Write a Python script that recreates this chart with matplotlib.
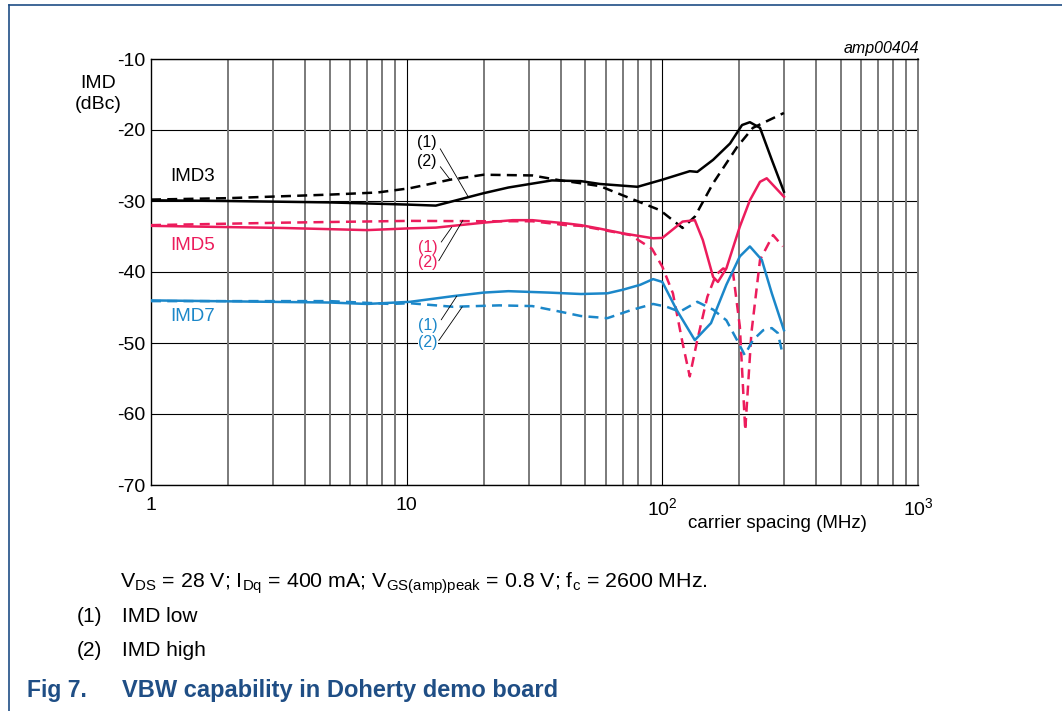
import numpy as np
import matplotlib
matplotlib.use("Agg")
import matplotlib.pyplot as plt
from matplotlib.lines import Line2D

plt.rcParams['font.family'] = ['Liberation Sans', 'DejaVu Sans']
plt.rcParams['mathtext.fontset'] = 'custom'
plt.rcParams['mathtext.rm'] = 'Liberation Sans'
plt.rcParams['mathtext.it'] = 'Liberation Sans:italic'

# ---- data (carrier spacing MHz, IMD dBc) ----
imd3_low_f = [1, 2, 5, 10, 13, 20, 25, 37, 48, 57, 80, 100, 128, 137, 158, 184, 205, 220, 241, 268, 299]
imd3_low = [-29.9, -30.0, -30.2, -30.5, -30.65, -28.9, -28.1, -27.1, -27.2, -27.6, -28.0, -27.0,
            -25.8, -25.9, -24.2, -21.9, -19.3, -18.9, -19.7, -24.2, -28.7]

imd3_high_f = [1, 2, 5, 7.7, 10.3, 14.8, 20, 31, 40, 48, 57, 70, 98, 120, 134, 158, 196, 226, 299]
imd3_high = [-29.8, -29.6, -29.1, -28.8, -28.2, -27.0, -26.3, -26.4, -27.1, -27.5, -27.9, -29.2,
             -31.3, -33.8, -32.2, -27.5, -22.4, -19.7, -17.6]

imd5_low_f = [1, 3.3, 7, 10.3, 13, 20, 26, 31, 42, 48, 57, 70, 92, 100, 120, 134, 144, 158, 165,
              178, 201, 220, 241, 256, 299]
imd5_low = [-33.5, -33.8, -34.1, -33.85, -33.75, -33.05, -32.7, -32.7, -33.15, -33.4, -33.9, -34.55,
            -35.25, -35.2, -32.9, -32.7, -35.5, -40.7, -41.4, -39.5, -33.6, -29.9, -27.3, -26.8, -29.4]

imd5_high_f = [1, 3.3, 10.3, 20, 31, 42, 48, 75, 91, 100, 110, 120, 128, 137, 150, 162, 173, 189,
               201, 211, 223, 241, 271, 296]
imd5_high = [-33.4, -33.05, -32.8, -32.85, -32.85, -33.4, -33.5, -34.8, -36.7, -39.25, -43.0, -50.0,
             -54.7, -49.6, -43.5, -40.4, -39.5, -40.1, -47.7, -62.3, -48.6, -38.3, -34.8, -36.4]

imd7_low_f = [1, 5, 7, 10.3, 15.2, 20, 25, 36, 48, 61, 70, 82, 92, 100, 114, 134, 155, 178, 201,
              220, 245, 268, 299]
imd7_low = [-44.0, -44.3, -44.5, -44.2, -43.4, -42.9, -42.7, -42.9, -43.1, -43.0, -42.5, -41.8,
            -41.0, -41.4, -45.4, -49.6, -47.2, -41.8, -37.8, -36.4, -38.3, -43.0, -48.2]

imd7_high_f = [1, 5, 8.6, 10.3, 15.2, 23, 31, 40, 48, 61, 75, 92, 104, 117, 137, 158, 178, 196,
               210, 226, 248, 268, 283, 296]
imd7_high = [-44.1, -44.1, -44.5, -44.4, -44.9, -44.7, -44.8, -45.6, -46.2, -46.5, -45.4, -44.5,
             -44.9, -45.6, -44.2, -45.3, -46.8, -49.6, -51.7, -49.6, -48.2, -47.9, -48.6, -51.7]

y_ticks = [-10, -20, -30, -40, -50, -60, -70]
x_ticks = [1, 10, 100, 1000]
x_ticklabels = ['1', '10', r'$10^2$', r'$10^3$']

BLACK = '#000000'
PINK = '#ec1c5c'
BLUE = '#1b87c9'
NAVY = '#1f4e85'

fig = plt.figure(figsize=(10.62, 7.11), dpi=100)
ax = fig.add_axes([151 / 1062, 1 - 485 / 711, 767 / 1062, 426 / 711])

ax.set_xscale('log')
ax.set_xlim(1, 1000)
ax.set_ylim(-70, -10)

# grid
for y in y_ticks:
    ax.axhline(y, color='black', lw=0.8, zorder=1)
for dec in [1, 10, 100]:
    for m in range(2, 10):
        ax.axvline(dec * m, color='#7a7a7a', lw=1.4, zorder=1)
ax.axvline(10, color='black', lw=0.8, zorder=1)
ax.axvline(100, color='black', lw=0.8, zorder=1)

lw = 1.8
dash = (0, (4, 2.5))
ax.plot(imd3_low_f, imd3_low, color=BLACK, lw=lw, zorder=3)
ax.plot(imd3_high_f, imd3_high, color=BLACK, lw=lw, ls=dash, zorder=3)
ax.plot(imd5_low_f, imd5_low, color=PINK, lw=lw, zorder=3)
ax.plot(imd5_high_f, imd5_high, color=PINK, lw=lw, ls=dash, zorder=3)
ax.plot(imd7_low_f, imd7_low, color=BLUE, lw=lw, zorder=3)
ax.plot(imd7_high_f, imd7_high, color=BLUE, lw=lw, ls=dash, zorder=3)

# series labels
ax.text(1.19, -26.5, 'IMD3', color=BLACK, fontsize=13.5, va='center', ha='left', zorder=4)
ax.text(1.19, -36.2, 'IMD5', color=PINK, fontsize=13.5, va='center', ha='left', zorder=4)
ax.text(1.19, -46.2, 'IMD7', color=BLUE, fontsize=13.5, va='center', ha='left', zorder=4)

# (1)/(2) leader annotations
leader = dict(arrowstyle='-', lw=0.6, color='black', relpos=(1.0, 0.5), shrinkA=1, shrinkB=0)
notes = [
    ('(1)', (12.0, -21.8), (17.4, -29.4), BLACK, False),
    ('(2)', (12.0, -24.5), (14.8, -27.0), BLACK, False),
    ('(1)', (12.1, -36.5), (15.0, -33.7), PINK, False),
    ('(2)', (12.1, -38.7), (16.6, -32.7), PINK, True),
    ('(1)', (12.1, -47.5), (15.7, -43.4), BLUE, False),
    ('(2)', (12.1, -49.9), (16.5, -44.9), BLUE, True),
]
for txt, xyt, xy, col, box in notes:
    kw = dict(bbox=dict(fc='white', ec='none', pad=0.3)) if box else {}
    ax.annotate(txt, xy=xy, xytext=xyt, color=col, fontsize=11.5, ha='center', va='center',
                arrowprops=leader, zorder=5, **kw)

ax.set_yticks(y_ticks)
ax.set_yticklabels([str(v) for v in y_ticks])
ax.set_xticks(x_ticks)
ax.set_xticklabels(x_ticklabels)
ax.xaxis.set_minor_locator(matplotlib.ticker.NullLocator())
ax.tick_params(axis='both', length=0, labelsize=14)
ax.tick_params(axis='x', pad=9)
ax.tick_params(axis='y', pad=4)
for s in ax.spines.values():
    s.set_linewidth(1.0)
    s.set_zorder(2)
ax.spines['right'].set_color('#7a7a7a')
ax.spines['right'].set_linewidth(1.4)

fig.text(98 / 1062, 1 - 94 / 711, 'IMD\n(dBc)', ha='center', va='center', fontsize=14, linespacing=1.3)
fig.text(919 / 1062, 1 - 48 / 711, 'amp00404', ha='right', va='center', fontsize=11.5, style='italic')
fig.text(777 / 1062, 1 - 523 / 711, 'carrier spacing (MHz)', ha='center', va='center', fontsize=13.5)

fig.text(120 / 1062, 1 - 583 / 711,
         r'V$_{\mathrm{DS}}$ = 28 V; I$_{\mathrm{Dq}}$ = 400 mA; V$_{\mathrm{GS(amp)peak}}$ = 0.8 V; '
         r'f$_{\mathrm{c}}$ = 2600 MHz.', ha='left', va='center', fontsize=15.4)
fig.text(77 / 1062, 1 - 617 / 711, '(1)', ha='left', va='center', fontsize=15)
fig.text(122 / 1062, 1 - 617 / 711, 'IMD low', ha='left', va='center', fontsize=15)
fig.text(77 / 1062, 1 - 650 / 711, '(2)', ha='left', va='center', fontsize=15)
fig.text(122 / 1062, 1 - 650 / 711, 'IMD high', ha='left', va='center', fontsize=15)
fig.text(27 / 1062, 1 - 690 / 711, 'Fig 7.', ha='left', va='center', fontsize=16.5,
         fontweight='bold', color=NAVY)
fig.text(122 / 1062, 1 - 690 / 711, 'VBW capability in Doherty demo board', ha='left', va='center',
         fontsize=17, fontweight='bold', color=NAVY)

# page frame
fig.add_artist(Line2D([9 / 1062, 9 / 1062], [0, 1 - 5 / 711], transform=fig.transFigure,
                      color=NAVY, lw=1.2))
fig.add_artist(Line2D([9 / 1062, 1], [1 - 5 / 711, 1 - 5 / 711], transform=fig.transFigure,
                      color=NAVY, lw=1.2))

fig.savefig('out.png', dpi=100)
